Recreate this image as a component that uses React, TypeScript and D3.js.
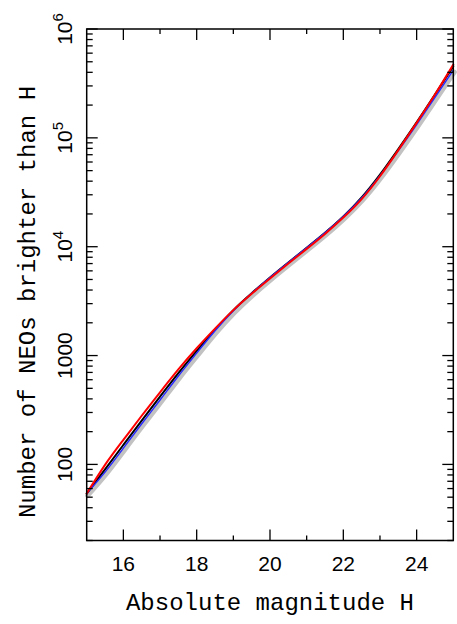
import React from 'react';
import * as d3 from 'd3';

// absolute magnitude grid
const hValues = [15, 15.5, 16, 16.5, 17, 17.5, 18, 18.5, 19, 19.5, 20, 20.5, 21, 21.5, 22, 22.5, 23, 23.5, 24, 24.5, 25];

// cumulative number of NEOs brighter than H, one list per curve
const greyBand = [53, 83, 138, 231, 382, 634, 1029, 1650, 2526, 3652, 5099, 6998, 9550, 13110, 18510, 27380, 43900, 74560, 129600, 230400, 409900];
const blackCurve = [54, 90, 151, 253, 419, 688, 1103, 1728, 2615, 3737, 5218, 7161, 9772, 13413, 18950, 28350, 45970, 78980, 138840, 249740, 454500];
const blueCurve = [54, 85, 141, 236, 391, 649, 1053, 1689, 2585, 3737, 5218, 7161, 9772, 13413, 18950, 28030, 44920, 76300, 132600, 235800, 419400];
const redCurve = [54, 99, 168, 280, 460, 746, 1168, 1768, 2615, 3694, 5099, 6998, 9550, 13110, 18510, 27380, 44410, 77200, 137250, 249740, 470600];

const xTickLabels = [16, 18, 20, 22, 24];
const xMinorTicks = [17, 19, 21, 23];

const W = 457, H = 624;
const left = 86.7, right = 453.3, top = 29, bottom = 540.5;

export default function App() {
  const x = d3.scaleLinear().domain([15, 25]).range([left, right]);
  const y = d3.scaleLog().domain([20, 1e6]).range([bottom, top]);

  const line = (vals: number[]) =>
    d3.line<number>()
      .x((d, i) => x(hValues[i]))
      .y(d => y(d))
      .curve(d3.curveNatural)(vals) || '';

  const yTicks = y.ticks();
  const isMajor = (v: number) => Math.abs(Math.log10(v) - Math.round(Math.log10(v))) < 1e-6;

  const sans = "'Liberation Sans', Arial, sans-serif";
  const mono = "'Liberation Mono', 'DejaVu Sans Mono', monospace";

  // y labels: plain numbers below 10^4, powers of ten above
  const yLabel = (v: number) => {
    const e = Math.round(Math.log10(v));
    if (e < 4) return <tspan>{v}</tspan>;
    return (
      <>
        <tspan>10</tspan>
        <tspan dy={-9} fontSize={15}>{e}</tspan>
      </>
    );
  };

  return (
    <svg width={W} height={H} style={{ position: 'absolute', left: 0, top: 0, background: '#fff' }}>
      {/* curves */}
      <g fill="none" strokeLinejoin="round" strokeLinecap="round">
        <path d={line(greyBand)} stroke="#c2c2c2" strokeWidth={5} transform="translate(1,1)" />
        <path d={line(blackCurve)} stroke="#000" strokeWidth={2} />
        <path d={line(blueCurve)} stroke="#2a2aff" strokeWidth={1.5} />
        <path d={line(redCurve)} stroke="#ff0000" strokeWidth={2} />
      </g>

      {/* frame */}
      <rect x={left} y={top} width={right - left} height={bottom - top} fill="none" stroke="#000" strokeWidth={1.5} />

      {/* y ticks, left and right */}
      {yTicks.map(v => {
        const len = isMajor(v) ? 11 : 6;
        const yy = y(v);
        return (
          <g key={'y' + v} stroke="#000" strokeWidth={1.3}>
            <line x1={left} x2={left + len} y1={yy} y2={yy} />
            <line x1={right} x2={right - len} y1={yy} y2={yy} />
          </g>
        );
      })}

      {/* x ticks, bottom and top */}
      {xTickLabels.concat(xMinorTicks).map(v => {
        const len = xTickLabels.includes(v) ? 11 : 5;
        const xx = x(v);
        return (
          <g key={'x' + v} stroke="#000" strokeWidth={1.3}>
            <line x1={xx} x2={xx} y1={bottom} y2={bottom - len} />
            <line x1={xx} x2={xx} y1={top} y2={top + len} />
          </g>
        );
      })}

      {/* x tick labels */}
      {xTickLabels.map(v => (
        <text key={'xl' + v} x={x(v)} y={571} textAnchor="middle" fontFamily={sans} fontSize={21}>{v}</text>
      ))}

      {/* y tick labels, rotated */}
      {yTicks.filter(isMajor).map(v => (
        <text key={'yl' + v} transform={`translate(72,${y(v)}) rotate(-90)`} textAnchor="middle"
          fontFamily={sans} fontSize={21}>{yLabel(v)}</text>
      ))}

      {/* axis titles */}
      <text x={(left + right) / 2} y={610} textAnchor="middle" fontFamily={mono} fontSize={24}>Absolute magnitude H</text>
      <text transform={`translate(35,${302}) rotate(-90)`} textAnchor="middle" fontFamily={mono} fontSize={24}>
        Number of NEOs brighter than H
      </text>
    </svg>
  );
}
